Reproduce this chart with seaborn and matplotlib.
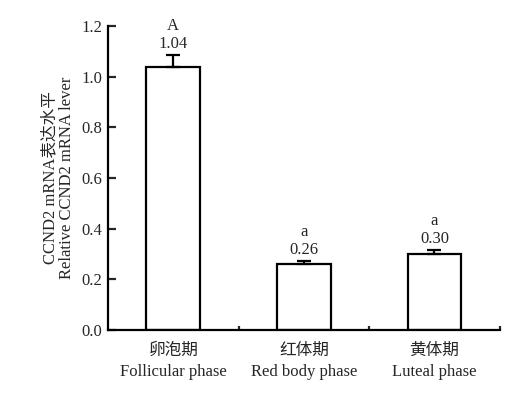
import matplotlib
matplotlib.use("Agg")
import matplotlib.pyplot as plt
import numpy as np
import pandas as pd
import seaborn as sns

phases = ['卵泡期\nFollicular phase', '红体期\nRed body phase', '黄体期\nLuteal phase']
means = [1.04, 0.26, 0.30]
errs = [0.045, 0.012, 0.015]
value_labels = ['1.04', '0.26', '0.30']
sig_letters = ['A', 'a', 'a']

sns.set_style('ticks')
plt.rcParams['font.family'] = ['Liberation Serif', 'Noto Sans CJK SC']
plt.rcParams['font.size'] = 12

df = pd.DataFrame({'phase': phases, 'mean': means})

fig = plt.figure(figsize=(5.19, 3.96), dpi=100)
ax = fig.add_axes([0.208, 0.167, 0.755, 0.767])

sns.barplot(data=df, x='phase', y='mean', color='white', edgecolor='black',
            linewidth=1.6, width=0.41, errorbar=None, ax=ax)
ax.errorbar(np.arange(len(means)), means, yerr=[np.zeros(len(errs)), errs],
            fmt='none', ecolor='black', elinewidth=1.6, capsize=5, capthick=1.6)

# value and significance letters above each bar
for i, (m, e) in enumerate(zip(means, errs)):
    ax.text(i, m + e + 0.044, value_labels[i], ha='center', va='center', fontsize=12)
    ax.text(i, m + e + 0.115, sig_letters[i], ha='center', va='center', fontsize=12)

ax.set_xlim(-0.5, 2.5)
ax.set_ylim(0, 1.2)
ax.set_yticks(np.arange(0, 1.21, 0.2))
ax.set_yticklabels(['%.1f' % v for v in np.arange(0, 1.21, 0.2)])
ax.set_xticks([0.5, 1.5, 2.5], minor=True)
for lab in ax.get_xticklabels():
    lab.set_linespacing(1.5)
ax.tick_params(axis='x', which='major', length=0, pad=9)
ax.tick_params(axis='x', which='minor', direction='in', length=3, width=1.6)
ax.tick_params(axis='y', direction='in', length=6, width=1.6, pad=4)
ax.set_xlabel('')
ax.set_ylabel('CCND2 mRNA表达水平\nRelative CCND2 mRNA lever', fontsize=12,
              labelpad=5, linespacing=1.05)

sns.despine(ax=ax)
for s in ['left', 'bottom']:
    ax.spines[s].set_linewidth(1.6)
    ax.spines[s].set_color('black')

fig.savefig('out.png', dpi=100)
